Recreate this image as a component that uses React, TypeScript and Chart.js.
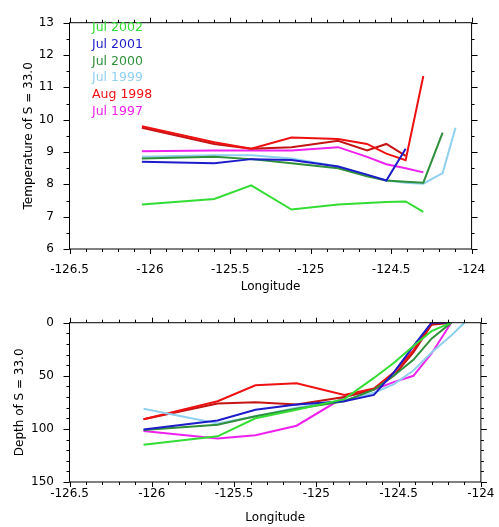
import { useEffect, useRef } from 'react';
import { Chart, registerables } from 'chart.js';

Chart.register(...registerables);

// Station longitudes (shared by all cruises)
const longitudes = [-126.05, -125.6, -125.37, -125.12, -124.83, -124.65, -124.53, -124.41, -124.3, -124.18, -124.1];

const seriesLabels = ['Jul 2002', 'Jul 2001', 'Jul 2000', 'Jul 1999', 'Aug 1998', 'Jul 1997'];
const seriesColors = ['#33dd33', '#1c1cc8', '#2f8f3a', '#8fd0ee', '#ee1111', '#ee22ee'];
const extraColor = '#c41414';

// Temperature of S = 33.0
const temp2002 = [7.38, 7.55, 7.97, 7.22, 7.38, 7.42, 7.45, 7.47, 7.15, null, null];
const temp2001 = [8.7, 8.65, 8.78, 8.75, 8.55, 8.3, 8.12, 9.1, null, null, null];
const temp2000 = [8.8, 8.85, 8.78, 8.65, 8.5, 8.25, 8.12, 8.08, 8.05, 9.6, null];
const temp1999 = [8.85, 8.9, 8.9, 8.8, 8.55, 8.28, 8.12, 8.05, 8.02, 8.35, 9.75];
const temp1998 = [9.8, 9.3, 9.1, 9.45, 9.4, 9.25, 8.95, 8.75, 11.35, null, null];
const temp1998b = [9.75, 9.25, 9.1, 9.15, 9.35, 9.05, 9.25, 8.88, null, null, null];
const temp1997 = [9.02, 9.05, 9.05, 9.05, 9.15, 8.85, 8.62, 8.5, 8.37, null, null];

// Depth of S = 33.0
const depth2002 = [115, 107, 90, 82, 72, 52, 38, 22, 8, 0, null];
const depth2001 = [100.5, 92, 82, 77, 74, 68, 47, 22, 0, 0, null];
const depth2000 = [101, 96, 88, 81, 74, 63, 50, 35, 15, 0, null];
const depth1999 = [81, 95, 88, 80, 73, 66, 58, 45, 28, 12, 0];
const depth1998 = [91, 74, 59, 57, 68, 62, 47, 26, 0, 0, null];
const depth1998b = [91, 76, 75, 77, 70, 63, 50, 28, 2, 0, null];
const depth1997 = [102, 109, 106, 97, 70, 63, 56, 50, 29, 0, null];

const tempSeries = [temp2002, temp2001, temp2000, temp1999, temp1998, temp1997];
const depthSeries = [depth2002, depth2001, depth2000, depth1999, depth1998, depth1997];

const FONT = 'DejaVu Sans';

function toPoints(values: (number | null)[]) {
  const pts: { x: number; y: number }[] = [];
  values.forEach((v, i) => {
    if (v !== null) pts.push({ x: longitudes[i], y: v });
  });
  return pts;
}

function buildDatasets(series: (number | null)[][], extra: (number | null)[]) {
  const ds: any[] = series.map((s, i) => ({
    label: seriesLabels[i],
    data: toPoints(s),
    borderColor: seriesColors[i],
    backgroundColor: seriesColors[i],
    borderWidth: 2,
    pointRadius: 0,
    tension: 0,
    fill: false,
  }));
  ds.splice(5, 0, {
    label: '',
    data: toPoints(extra),
    borderColor: extraColor,
    backgroundColor: extraColor,
    borderWidth: 2,
    pointRadius: 0,
    tension: 0,
    fill: false,
  });
  return ds;
}

function framePlugin(xMinor: number, xMajor: number, yMinor: number, yMajor: number) {
  return {
    id: 'frameTicks',
    afterDraw(chart: any) {
      const { ctx, chartArea: a, scales } = chart;
      const xs = scales.x;
      const ys = scales.y;
      ctx.save();
      ctx.strokeStyle = '#000';
      ctx.lineWidth = 1;
      ctx.strokeRect(a.left, a.top, a.right - a.left, a.bottom - a.top);
      ctx.beginPath();
      const nx = Math.round((xs.max - xs.min) / xMinor);
      const rx = Math.round(xMajor / xMinor);
      for (let i = 0; i <= nx; i++) {
        const v = xs.min + i * xMinor;
        const px = Math.round(xs.getPixelForValue(v)) + 0.5;
        const len = i % rx === 0 ? 5 : 3;
        ctx.moveTo(px, a.bottom);
        ctx.lineTo(px, a.bottom + len);
        ctx.moveTo(px, a.top);
        ctx.lineTo(px, a.top - len);
      }
      const ny = Math.round((ys.max - ys.min) / yMinor);
      const ry = Math.round(yMajor / yMinor);
      for (let i = 0; i <= ny; i++) {
        const v = ys.min + i * yMinor;
        const py = Math.round(ys.getPixelForValue(v)) + 0.5;
        const len = i % ry === 0 ? 6 : 3;
        ctx.moveTo(a.left, py);
        ctx.lineTo(a.left - len, py);
        ctx.moveTo(a.right, py);
        ctx.lineTo(a.right + len, py);
      }
      ctx.stroke();
      ctx.restore();
    },
  };
}

const legendPlugin = {
  id: 'textLegend',
  afterDraw(chart: any) {
    const { ctx } = chart;
    ctx.save();
    ctx.font = `12.5px "${FONT}"`;
    ctx.textAlign = 'left';
    ctx.textBaseline = 'middle';
    seriesLabels.forEach((lab, i) => {
      ctx.fillStyle = seriesColors[i];
      ctx.fillText(lab, 92, 28 + i * 16.7);
    });
    ctx.restore();
  },
};

function xScale(labelPad: number, titlePadBottom: number, height: number) {
  return {
    type: 'linear',
    min: -126.5,
    max: -124,
    grid: { display: false, drawTicks: false },
    border: { display: false },
    ticks: {
      stepSize: 0.5,
      padding: labelPad,
      color: '#000',
      autoSkip: false,
      maxRotation: 0,
      font: { family: FONT, size: 12 },
      callback: (v: any) => String(Math.round(Number(v) * 10) / 10),
    },
    title: {
      display: true,
      text: 'Longitude',
      color: '#000',
      font: { family: FONT, size: 12 },
      padding: { top: 0, bottom: titlePadBottom },
    },
    afterFit: (s: any) => {
      s.height = height;
    },
  };
}

function yScale(min: number, max: number, step: number, reverse: boolean, title: string, titlePadTop: number) {
  return {
    type: 'linear',
    min,
    max,
    reverse,
    grid: { display: false, drawTicks: false },
    border: { display: false },
    ticks: {
      stepSize: step,
      padding: 15.5,
      color: '#000',
      font: { family: FONT, size: 12 },
    },
    title: {
      display: true,
      text: title,
      color: '#000',
      font: { family: FONT, size: 12 },
      padding: { top: titlePadTop, bottom: 0 },
    },
    afterFit: (s: any) => {
      s.width = 69.5;
    },
  };
}

export default function App() {
  const topRef = useRef<HTMLCanvasElement>(null);
  const botRef = useRef<HTMLCanvasElement>(null);

  useEffect(() => {
    const top = new Chart(topRef.current as HTMLCanvasElement, {
      type: 'line',
      data: { datasets: buildDatasets(tempSeries, temp1998b) },
      options: {
        animation: false,
        responsive: false,
        maintainAspectRatio: false,
        layout: { padding: { top: 15.5, right: 14.5, left: 0, bottom: 0 } },
        plugins: { legend: { display: false }, tooltip: { enabled: false } },
        scales: {
          x: xScale(13.8, 6, 51),
          y: yScale(6, 13, 1, false, 'Temperature of S = 33.0', 21.8),
        } as any,
      },
      plugins: [framePlugin(0.1, 0.5, 0.5, 1), legendPlugin],
    } as any);

    const bot = new Chart(botRef.current as HTMLCanvasElement, {
      type: 'line',
      data: { datasets: buildDatasets(depthSeries, depth1998b) },
      options: {
        animation: false,
        responsive: false,
        maintainAspectRatio: false,
        layout: { padding: { top: 15, right: 14.5, left: 0, bottom: 0 } },
        plugins: { legend: { display: false }, tooltip: { enabled: false } },
        scales: {
          x: xScale(4.5, 1.8, 45),
          y: yScale(0, 150, 50, true, 'Depth of S = 33.0', 12.8),
        } as any,
      },
      plugins: [framePlugin(0.1, 0.5, 10, 50)],
    } as any);

    return () => {
      top.destroy();
      bot.destroy();
    };
  }, []);

  return (
    <div style={{ position: 'absolute', left: 0, top: 0, width: 499, height: 527, background: '#fff' }}>
      <canvas ref={topRef} width={499} height={300} style={{ position: 'absolute', left: 0, top: 0, display: 'block' }} />
      <canvas ref={botRef} width={499} height={227} style={{ position: 'absolute', left: 0, top: 300, display: 'block' }} />
    </div>
  );
}
